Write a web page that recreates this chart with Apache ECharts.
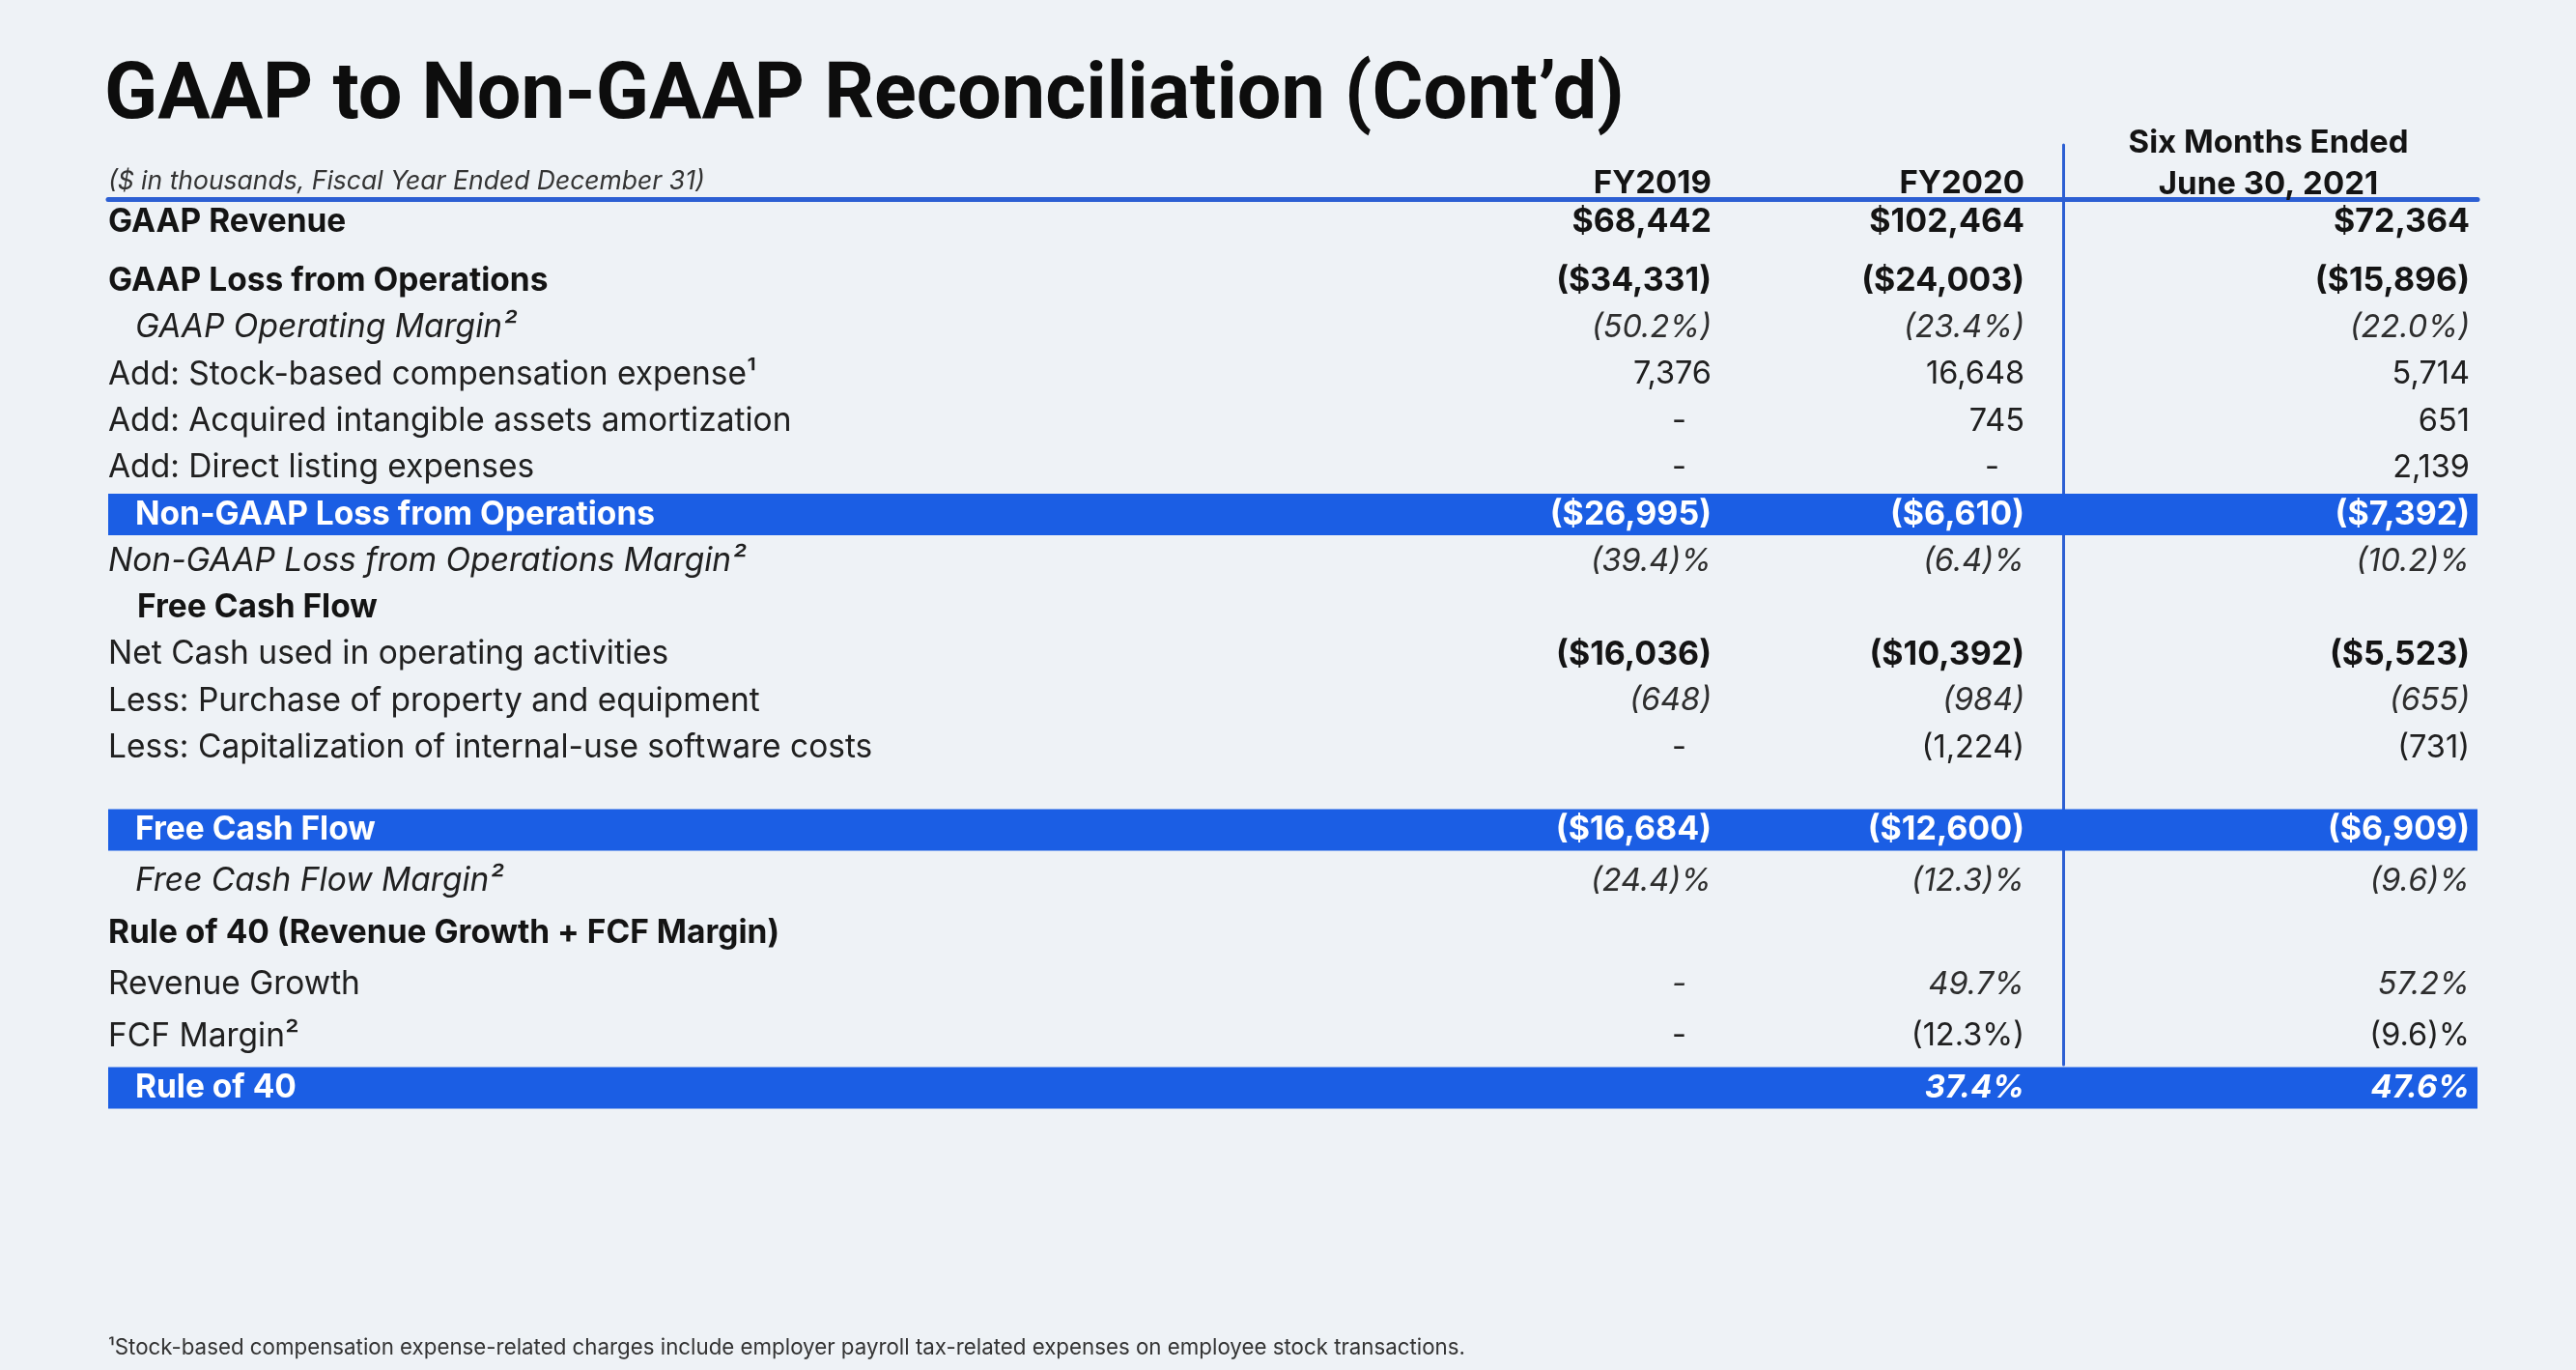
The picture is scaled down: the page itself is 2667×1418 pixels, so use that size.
<!DOCTYPE html>
<html><head><meta charset="utf-8">
<script src="https://cdn.jsdelivr.net/npm/echarts@6/dist/echarts.min.js"></script>
<style>html,body{margin:0;padding:0;background:#eef2f6;}#c{width:2667px;height:1418px;}</style>
</head><body><div id="c"></div>
<script>
// ---------- data ----------
const pageTitle = "GAAP to Non-GAAP Reconciliation (Cont’d)";
const unitNote = "($ in thousands, Fiscal Year Ended December 31)";
const columns = ["FY2019", "FY2020", "Six Months Ended\nJune 30, 2021"];
const rows = [
  "GAAP Revenue",
  "GAAP Loss from Operations",
  "GAAP Operating Margin²",
  "Add: Stock-based compensation expense¹",
  "Add: Acquired intangible assets amortization",
  "Add: Direct listing expenses",
  "Non-GAAP Loss from Operations",
  "Non-GAAP Loss from Operations Margin²",
  "Free Cash Flow",
  "Net Cash used in operating activities",
  "Less: Purchase of property and equipment",
  "Less: Capitalization of internal-use software costs",
  "Free Cash Flow",
  "Free Cash Flow Margin²",
  "Rule of 40 (Revenue Growth + FCF Margin)",
  "Revenue Growth",
  "FCF Margin²",
  "Rule of 40"
];
const fy2019 = ["$68,442","($34,331)","(50.2%)","7,376","-","-","($26,995)","(39.4)%","","($16,036)","(648)","-","($16,684)","(24.4)%","","-","-",""];
const fy2020 = ["$102,464","($24,003)","(23.4%)","16,648","745","-","($6,610)","(6.4)%","","($10,392)","(984)","(1,224)","($12,600)","(12.3)%","","49.7%","(12.3%)","37.4%"];
const sixMonths = ["$72,364","($15,896)","(22.0%)","5,714","651","2,139","($7,392)","(10.2)%","","($5,523)","(655)","(731)","($6,909)","(9.6)%","","57.2%","(9.6)%","47.6%"];
const totalRows = [0,0,0,0,0,0,1,0,0,0,0,0,1,0,0,0,0,1];
const footnote = "¹Stock-based compensation expense-related charges include employer payroll tax-related expenses on employee stock transactions.";

// ---------- styles & layout ----------
const FONT = "Inter";
const FS = 33.5;
const BLUE = "#1b5ee4";
const LINE = "#2c5fd3";
const rowKind = ['b','b','ii','n','n','n','w','i','bi','n','n','n','w','ii','b','n','n','w'];
const valKind = ['b','b','i','n','n','n','w','i','n','b','i','n','w','i','n','i','n','wi'];
const valFont = {
  b: "bold 34px " + FONT, n: "32.5px " + FONT, i: "italic 32.5px " + FONT,
  w: "bold 34px " + FONT, wi: "italic bold 33px " + FONT
};
const valColor = { b: "#141414", n: "#202020", i: "#2e2e2e", w: "#ffffff", wi: "#ffffff" };

// sections of rows: [first, last] index, grid top, row step
const sections = [
  { from: 0, to: 0, top: 206, step: 48 },
  { from: 1, to: 11, top: 266.8, step: 48.3 },
  { from: 12, to: 17, top: 832.3, step: 53.4 }
];
const colGrids = [
  { left: 1500, width: 272 },
  { left: 1800, width: 296 },
  { left: 2140, width: 417 }
];
const colData = [fy2019, fy2020, sixMonths];

const grids = [], xAxes = [], yAxes = [], series = [];
const richLabel = {
  b: { fontFamily: FONT, fontSize: FS, fontWeight: 'bold', color: '#141414' },
  bi: { fontFamily: FONT, fontSize: FS, fontWeight: 'bold', color: '#141414', padding: [0, 0, 0, 30] },
  n: { fontFamily: FONT, fontSize: FS, color: '#202020' },
  i: { fontFamily: FONT, fontSize: FS, fontStyle: 'italic', color: '#202020' },
  ii: { fontFamily: FONT, fontSize: FS, fontStyle: 'italic', color: '#202020', padding: [0, 0, 0, 28] },
  w: { fontFamily: FONT, fontSize: FS, fontWeight: 'bold', color: '#ffffff', padding: [0, 0, 0, 28] }
};

sections.forEach((sec, s) => {
  const idx = [];
  for (let i = sec.from; i <= sec.to; i++) idx.push(i);
  const labels = idx.map(i => rows[i]);
  const height = sec.step * idx.length;
  // label + highlight grid
  const g0 = grids.length;
  grids.push({ left: 112, width: 2453, top: sec.top, height: height });
  xAxes.push({
    gridIndex: g0, type: 'value', min: 0, max: 1, position: 'top',
    axisLine: { show: s === 0, lineStyle: { color: LINE, width: 5 } },
    axisTick: { show: false }, axisLabel: { show: false }, splitLine: { show: false }
  });
  yAxes.push({
    gridIndex: g0, type: 'category', data: labels, inverse: true, z: 10,
    axisLine: { show: false }, axisTick: { show: false }, splitLine: { show: false },
    axisLabel: {
      show: true, interval: 0, align: 'left', margin: 0,
      formatter: (v, k) => '{' + rowKind[idx[k]] + '|' + v + '}',
      rich: richLabel
    }
  });
  series.push({
    type: 'bar', xAxisIndex: xAxes.length - 1, yAxisIndex: yAxes.length - 1, barWidth: 43,
    data: idx.map(i => totalRows[i] ? 1 : '-'),
    itemStyle: { color: BLUE }, silent: true, z: 2
  });
  // value columns
  colGrids.forEach((cg, c) => {
    const gi = grids.length;
    grids.push({ left: cg.left, width: cg.width, top: sec.top, height: height });
    const isSix = c === 2;
    const xa = {
      gridIndex: gi, type: 'category', data: [columns[c]], position: 'top',
      axisLine: { show: false }, axisTick: { show: false }, axisLabel: { show: false }, splitLine: { show: false }
    };
    if (s === 0) {
      Object.assign(xa, {
        name: columns[c],
        nameLocation: isSix ? 'middle' : 'end',
        nameGap: isSix ? 36 : 0,
        nameTextStyle: {
          fontFamily: FONT, fontSize: 33, fontWeight: 'bold', color: '#141414',
          align: isSix ? 'center' : 'right', verticalAlign: isSix ? 'middle' : 'bottom',
          lineHeight: isSix ? 43 : 32
        }
      });
    }
    xAxes.push(xa);
    yAxes.push({ gridIndex: gi, type: 'category', data: labels, inverse: true, show: false });
    const vals = colData[c];
    const items = [];
    idx.forEach((i, k) => { if (vals[i]) items.push([columns[c], k]); });
    series.push({
      type: 'custom', xAxisIndex: xAxes.length - 1, yAxisIndex: yAxes.length - 1, z: 5, silent: true,
      data: items,
      renderItem: (params, api) => {
        const k = api.value(1);
        const i = idx[k];
        const txt = vals[i];
        const cs = params.coordSys;
        const y = api.coord([0, k])[1];
        const kind = valKind[i];
        const x = cs.x + cs.width - (txt === '-' ? 26 : 0);
        return {
          type: 'text',
          style: { text: txt, x: x, y: y, align: 'right', verticalAlign: 'middle', font: valFont[kind], fill: valColor[kind] }
        };
      }
    });
  });
});

// vertical divider
const gd = grids.length;
grids.push({ left: 2136, width: 1, top: 150, height: 952 });
xAxes.push({ gridIndex: gd, type: 'value', show: false });
yAxes.push({
  gridIndex: gd, type: 'value', min: 0, max: 1,
  axisLine: { show: true, lineStyle: { color: LINE, width: 3 } },
  axisTick: { show: false }, axisLabel: { show: false }, splitLine: { show: false }
});

const chart = echarts.init(document.getElementById('c'), null, { renderer: 'canvas' });
chart.setOption({
  animation: false,
  backgroundColor: '#eef2f6',
  title: [
    { text: pageTitle, left: 108, top: 57, padding: 0,
      textStyle: { fontFamily: 'Roboto', fontSize: 81, fontWeight: 'bold', color: '#0d0d0d', lineHeight: 90 } },
    { text: unitNote, left: 112, top: 172, padding: 0,
      textStyle: { fontFamily: FONT, fontSize: 26.5, fontStyle: 'italic', fontWeight: 'normal', color: '#333333', lineHeight: 32 } },
    { text: footnote, left: 112, top: 1383, padding: 0,
      textStyle: { fontFamily: FONT, fontSize: 22.3, fontWeight: 'normal', color: '#333333', lineHeight: 24 } }
  ],
  grid: grids,
  xAxis: xAxes,
  yAxis: yAxes,
  series: series
});
</script>
</body></html>
